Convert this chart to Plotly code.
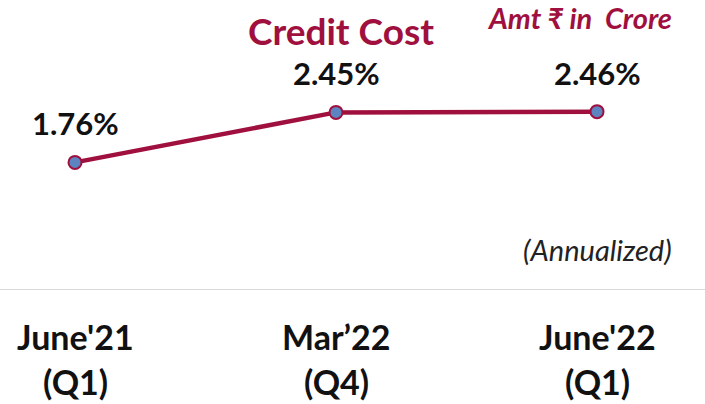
import plotly.graph_objects as go

categories = ["June'21", "Mar’22", "June'22"]
periods = ["(Q1)", "(Q4)", "(Q1)"]
credit_cost = [1.76, 2.45, 2.46]
value_labels = ["1.76%", "2.45%", "2.46%"]

RED = "#A0103E"
FONT = "Lato"
W, H = 705, 404
PLOT_H = 290  # pixel height of the plotting area (top margin 0)


def py(pix):
    """pixel y from top -> paper coordinate"""
    return (PLOT_H - pix) / PLOT_H


xs = list(range(len(categories)))

fig = go.Figure()
fig.add_trace(go.Scatter(
    x=xs, y=credit_cost, mode="lines+markers",
    line=dict(color=RED, width=4.5),
    marker=dict(size=13, color="#5B84C0", line=dict(color=RED, width=2)),
    hoverinfo="skip", showlegend=False,
))

ann = []
for x, v, lab in zip(xs, credit_cost, value_labels):
    ann.append(dict(x=x, y=v, xref="x", yref="y", text=f"<b>{lab}</b>", showarrow=False,
                    yshift=39, yanchor="middle", font=dict(family=FONT, size=31, color="#111111")))
for x, c, p in zip(xs, categories, periods):
    ann.append(dict(x=x, y=py(336), xref="x", yref="paper", text=f"<b>{c}</b>", showarrow=False,
                    yanchor="middle", font=dict(family=FONT, size=34, color="#111111")))
    ann.append(dict(x=x, y=py(381), xref="x", yref="paper", text=f"<b>{p}</b>", showarrow=False,
                    yanchor="middle", font=dict(family=FONT, size=34, color="#111111")))

ann.append(dict(x=341 / W, y=py(31), xref="paper", yref="paper", text="<b>Credit Cost</b>",
                showarrow=False, yanchor="middle", font=dict(family=FONT, size=37, color=RED)))
ann.append(dict(x=674 / W, y=py(17), xref="paper", yref="paper", text="<b><i>Amt ₹ in  Crore</i></b>",
                showarrow=False, xanchor="right", yanchor="middle",
                font=dict(family=FONT, size=29, color=RED)))
ann.append(dict(x=674 / W, y=py(250), xref="paper", yref="paper", text="<i>(Annualized)</i>",
                showarrow=False, xanchor="right", yanchor="middle",
                font=dict(family=FONT, size=29, color="#222222")))

fig.update_layout(
    width=W, height=H,
    margin=dict(l=0, r=0, t=0, b=H - PLOT_H),
    paper_bgcolor="white", plot_bgcolor="white",
    xaxis=dict(range=[-75 / 261, 630 / 261], showgrid=False, zeroline=False,
               showticklabels=False, showline=False),
    yaxis=dict(range=[0, PLOT_H / 72.5], showgrid=False, zeroline=False,
               showticklabels=False, showline=False),
    annotations=ann,
    shapes=[dict(type="line", xref="paper", yref="y", x0=0, x1=1, y0=0, y1=0,
                 line=dict(color="#D9D9D9", width=2))],
)

fig.write_html("out.html", config={"displayModeBar": False},
               post_script="document.body.style.margin='0';")
